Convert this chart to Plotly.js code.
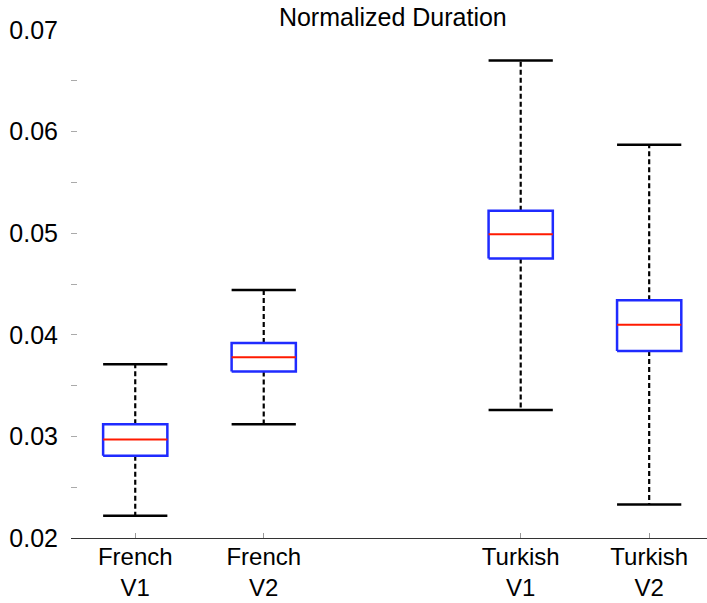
<!DOCTYPE html>
<html>
<head>
<meta charset="utf-8">
<script src="https://cdn.plot.ly/plotly-3.0.1.min.js"></script>
<style>html,body{margin:0;padding:0;background:#fff;}#chart{width:707px;height:603px;}</style>
</head>
<body>
<div id="chart"></div>
<script>
// ---- data ----
const categories = ['French<br>V1', 'French<br>V2', 'Turkish<br>V1', 'Turkish<br>V2'];
const positions = [1, 2, 4, 5];
const lowerWhisker = [0.0222, 0.0312, 0.0326, 0.0233];
const q1 = [0.0281, 0.0364, 0.0475, 0.0384];
const median = [0.0297, 0.0378, 0.0499, 0.0410];
const q3 = [0.0312, 0.0392, 0.0522, 0.0434];
const upperWhisker = [0.0371, 0.0444, 0.0670, 0.0587];
const yTicks = [0.02, 0.03, 0.04, 0.05, 0.06, 0.07];

// ---- build marks from data ----
const hw = 0.25;
const boxX = [], boxY = [], medX = [], medY = [], whX = [], whY = [], capX = [], capY = [];
positions.forEach((p, i) => {
  boxX.push(p - hw, p + hw, p + hw, p - hw, p - hw, null);
  boxY.push(q1[i], q1[i], q3[i], q3[i], q1[i], null);
  medX.push(p - hw, p + hw, null);
  medY.push(median[i], median[i], null);
  whX.push(p, p, null, p, p, null);
  whY.push(q3[i], upperWhisker[i], null, q1[i], lowerWhisker[i], null);
  capX.push(p - hw, p + hw, null, p - hw, p + hw, null);
  capY.push(upperWhisker[i], upperWhisker[i], null, lowerWhisker[i], lowerWhisker[i], null);
});

const traces = [
  {x: whX, y: whY, mode: 'lines', line: {color: '#000', width: 2.2, dash: '5px,3px'}, hoverinfo: 'skip'},
  {x: capX, y: capY, mode: 'lines', line: {color: '#000', width: 2.5}, hoverinfo: 'skip'},
  {x: boxX, y: boxY, mode: 'lines', line: {color: '#1f2bff', width: 2.5}, hoverinfo: 'skip'},
  {x: medX, y: medY, mode: 'lines', line: {color: '#ff1a00', width: 2}, hoverinfo: 'skip'}
];

const font = {family: '"Liberation Sans", Arial, sans-serif', color: '#000'};
const layout = {
  width: 707, height: 603,
  margin: {l: 71, r: 0, t: 30, b: 65},
  paper_bgcolor: '#fff', plot_bgcolor: '#fff',
  showlegend: false,
  font: font,
  title: {text: 'Normalized Duration', font: Object.assign({}, font, {size: 25}),
          x: 0.506, xref: 'paper', xanchor: 'center', y: 0.971, yref: 'container', yanchor: 'middle'},
  xaxis: {
    range: [0.5, 5.45], tickvals: positions, ticktext: categories,
    ticks: 'inside', ticklen: 5, tickcolor: '#999', tickwidth: 1,
    showline: true, linecolor: '#333', linewidth: 1.3,
    showgrid: false, zeroline: false,
    tickfont: Object.assign({}, font, {size: 24}),
    ticklabelstandoff: -3
  },
  yaxis: {
    range: [0.02, 0.07], tickvals: yTicks, tickformat: '.2f',
    ticks: 'inside', ticklen: 6, tickcolor: '#aaa', tickwidth: 1,
    minor: {dtick: 0.005, ticks: 'inside', ticklen: 6, tickcolor: '#aaa', tickwidth: 1},
    showline: false, showgrid: false, zeroline: false,
    tickfont: Object.assign({}, font, {size: 25}),
    ticklabelstandoff: 12
  }
};

Plotly.newPlot('chart', traces, layout, {displayModeBar: false, staticPlot: true});
</script>
</body>
</html>
